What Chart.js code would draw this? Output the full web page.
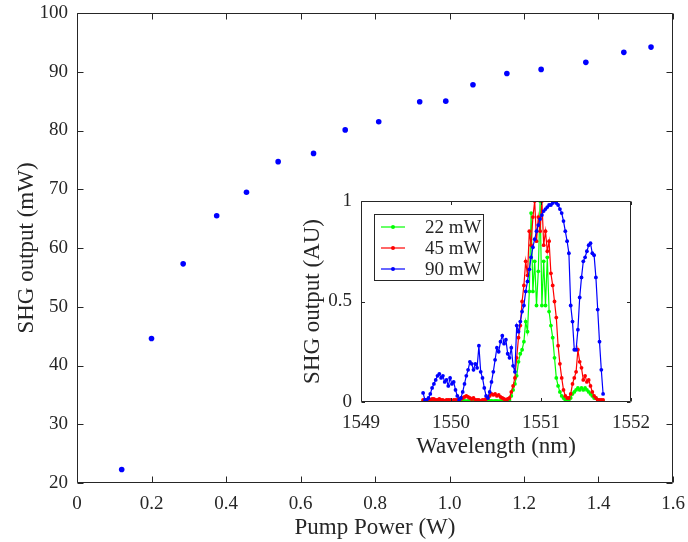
<!DOCTYPE html>
<html lang="en">
<head>
    <meta charset="UTF-8">
    <title>SHG output vs pump power</title>
    <script src="https://cdn.jsdelivr.net/npm/chart.js"></script>
    <style>
        body { margin: 0; background: #fff; }
        #wrap { position: relative; width: 688px; height: 542px; }
        #mainChart { position: absolute; left: 0; top: 0; }
        #insetChart { position: absolute; left: 280px; top: 180px; }
    </style>
</head>
<body>
<div id="wrap">
    <canvas id="mainChart" width="688" height="542"></canvas>
    <canvas id="insetChart" width="380" height="281"></canvas>
</div>
<script>
// main plot: SHG output vs pump power
const pumpPower = [0.12, 0.20, 0.285, 0.375, 0.455, 0.54, 0.635, 0.72, 0.81, 0.92, 0.99, 1.063, 1.154, 1.246, 1.366, 1.468, 1.541];
const shgOutput = [22.3, 44.6, 57.3, 65.5, 69.5, 74.7, 76.1, 80.1, 81.5, 84.9, 85.0, 87.8, 89.7, 90.4, 91.6, 93.3, 94.2];
const mainXTicks = [0, 0.2, 0.4, 0.6, 0.8, 1, 1.2, 1.4, 1.6];
const mainYTicks = [20, 30, 40, 50, 60, 70, 80, 90, 100];

// inset: spectra at three pump levels
const wavelength = [
    1549.69, 1549.71, 1549.73, 1549.75, 1549.77, 1549.79, 1549.81, 1549.83, 1549.85, 1549.87,
    1549.89, 1549.91, 1549.93, 1549.95, 1549.97, 1549.99, 1550.01, 1550.03, 1550.05, 1550.07,
    1550.09, 1550.11, 1550.13, 1550.15, 1550.17, 1550.19, 1550.21, 1550.23, 1550.25, 1550.27,
    1550.29, 1550.31, 1550.33, 1550.35, 1550.37, 1550.39, 1550.41, 1550.43, 1550.45, 1550.47,
    1550.49, 1550.51, 1550.53, 1550.55, 1550.57, 1550.59, 1550.61, 1550.63, 1550.65, 1550.67,
    1550.69, 1550.71, 1550.73, 1550.75, 1550.77, 1550.79, 1550.81, 1550.83, 1550.85, 1550.87,
    1550.89, 1550.91, 1550.93, 1550.95, 1550.97, 1550.99, 1551.01, 1551.03, 1551.05, 1551.07,
    1551.09, 1551.11, 1551.13, 1551.15, 1551.17, 1551.19, 1551.21, 1551.23, 1551.25, 1551.27,
    1551.29, 1551.31, 1551.33, 1551.35, 1551.37, 1551.39, 1551.41, 1551.43, 1551.45, 1551.47,
    1551.49, 1551.51, 1551.53, 1551.55, 1551.57, 1551.59, 1551.61, 1551.63, 1551.65, 1551.67,
    1551.69
];
const spec22 = [
    0.005, 0.003, 0.004, 0.006, 0.004, 0.005, 0.003, 0.005, 0.004, 0.006,
    0.004, 0.005, 0.003, 0.004, 0.005, 0.003, 0.004, 0.005, 0.003, 0.004,
    0.005, 0.004, 0.006, 0.005, 0.004, 0.006, 0.005, 0.004, 0.005, 0.003,
    0.004, 0.003, 0.004, 0.005, 0.003, 0.004, 0.005, 0.006, 0.005, 0.004,
    0.005, 0.006, 0.004, 0.005, 0.004, 0.003, 0.004, 0.005, 0.01, 0.03,
    0.06, 0.09, 0.13, 0.20, 0.24, 0.26, 0.30, 0.40, 0.35, 0.55,
    0.94, 0.55, 0.70, 0.48, 0.65, 1.00, 0.48, 0.70, 0.48, 0.72,
    0.45, 0.38, 0.32, 0.22, 0.12, 0.08, 0.05, 0.03, 0.02, 0.01,
    0.01, 0.01, 0.02, 0.04, 0.05, 0.06, 0.07, 0.06, 0.07, 0.06,
    0.07, 0.06, 0.05, 0.04, 0.03, 0.02, 0.02, 0.01, 0.005, 0.003,
    0.002
];
const spec45 = [
    0.01, 0.01, 0.005, 0.01, 0.01, 0.015, 0.015, 0.01, 0.01, 0.015,
    0.01, 0.01, 0.005, 0.01, 0.01, 0.01, 0.005, 0.01, 0.01, 0.01,
    0.015, 0.015, 0.02, 0.025, 0.03, 0.025, 0.02, 0.015, 0.02, 0.01,
    0.01, 0.01, 0.005, 0.01, 0.01, 0.015, 0.02, 0.03, 0.04, 0.035,
    0.04, 0.03, 0.035, 0.025, 0.02, 0.015, 0.01, 0.015, 0.02, 0.05,
    0.08, 0.12, 0.22, 0.32, 0.38, 0.50, 0.58, 0.70, 0.63, 0.85,
    0.78, 0.92, 1.00, 0.80, 0.92, 0.85, 1.00, 0.78, 0.85, 0.75,
    0.80, 0.64, 0.58, 0.50, 0.42, 0.28, 0.19, 0.12, 0.06, 0.03,
    0.02, 0.02, 0.04, 0.09, 0.12, 0.15, 0.26, 0.20, 0.17, 0.11,
    0.13, 0.10, 0.11, 0.08, 0.05, 0.03, 0.02, 0.01, 0.01, 0.01,
    0.01
];
const spec90 = [
    0.045, 0.01, 0.01, 0.02, 0.04, 0.07, 0.09, 0.11, 0.13, 0.14,
    0.12, 0.13, 0.10, 0.11, 0.08, 0.12, 0.09, 0.10, 0.06, 0.03,
    0.01, 0.02, 0.05, 0.09, 0.13, 0.16, 0.20, 0.19, 0.16, 0.19,
    0.17, 0.28, 0.15, 0.12, 0.07, 0.03, 0.02, 0.05, 0.10, 0.15,
    0.21, 0.27, 0.25, 0.30, 0.33, 0.29, 0.31, 0.24, 0.22, 0.27,
    0.18, 0.15, 0.38, 0.35, 0.40, 0.45, 0.48, 0.55, 0.60, 0.66,
    0.72, 0.77, 0.81, 0.85, 0.88, 0.91, 0.93, 0.95, 0.96, 0.97,
    0.98, 0.98, 0.99, 1.00, 0.99, 0.98, 0.96, 0.94, 0.90, 0.85,
    0.80, 0.74, 0.48, 0.40, 0.26, 0.26, 0.36, 0.52, 0.62, 0.70,
    0.72, 0.75, 0.78, 0.79, 0.74, 0.73, 0.62, 0.46, 0.30, 0.16,
    0.04
];
const insetXTicks = [1549, 1550, 1551, 1552];
const insetYTicks = [0, 0.5, 1];
const seriesNames = ['22 mW', '45 mW', '90 mW'];
const seriesColors = ['#00ff00', '#ff0000', '#0000ff'];

Chart.defaults.font.family = "'Liberation Serif', 'Times New Roman', serif";
Chart.defaults.color = '#262626';

const axisColor = '#262626';

// MATLAB style box with inward ticks on all four sides
const boxFrame = {
    id: 'boxFrame',
    afterDraw(chart, args, opts) {
        const ctx = chart.ctx;
        const a = chart.chartArea;
        const x = chart.scales.x, y = chart.scales.y;
        const len = opts.len || 5;
        const l = Math.round(a.left) + 0.5, r = Math.round(a.right) - 0.5;
        const t = Math.round(a.top) + 0.5, b = Math.round(a.bottom) - 0.5;
        ctx.save();
        ctx.strokeStyle = axisColor;
        ctx.lineWidth = 1;
        ctx.beginPath();
        ctx.rect(l, t, r - l, b - t);
        x.ticks.forEach(tk => {
            const px = Math.round(x.getPixelForValue(tk.value)) + 0.5;
            ctx.moveTo(px, b); ctx.lineTo(px, b - len);
            ctx.moveTo(px, t); ctx.lineTo(px, t + len);
        });
        y.ticks.forEach(tk => {
            const py = Math.round(y.getPixelForValue(tk.value)) + 0.5;
            ctx.moveTo(l, py); ctx.lineTo(l + len, py);
            ctx.moveTo(r, py); ctx.lineTo(r - len, py);
        });
        ctx.stroke();
        ctx.restore();
    }
};

// boxed legend in the top left of the inset
const insetLegend = {
    id: 'insetLegend',
    afterDraw(chart) {
        const ctx = chart.ctx;
        const a = chart.chartArea;
        const bx = a.left + 13, by = a.top + 13, bw = 109, bh = 66;
        ctx.save();
        ctx.fillStyle = '#fff';
        ctx.fillRect(bx, by, bw, bh);
        ctx.strokeStyle = axisColor;
        ctx.lineWidth = 1;
        ctx.strokeRect(Math.round(bx) + 0.5, Math.round(by) + 0.5, bw, bh);
        ctx.font = "19px 'Liberation Serif'";
        ctx.textBaseline = 'middle';
        chart.data.datasets.forEach((ds, i) => {
            const cy = by + 13 + i * 21;
            ctx.strokeStyle = ds.borderColor;
            ctx.lineWidth = 1.2;
            ctx.beginPath();
            ctx.moveTo(bx + 7, cy); ctx.lineTo(bx + 31, cy);
            ctx.stroke();
            ctx.fillStyle = ds.borderColor;
            ctx.beginPath();
            ctx.arc(bx + 19, cy, 2, 0, Math.PI * 2);
            ctx.fill();
            ctx.fillStyle = '#262626';
            ctx.fillText(ds.label, bx + 51, cy + 1);
        });
        ctx.restore();
    }
};

function fixedTicks(list) {
    return function (axis) {
        axis.ticks = list.map(v => ({ value: v }));
    };
}

// fixed axis box, and no extra room for overhanging tick labels
function fixSize(size) {
    return function (axis) {
        if (axis.isHorizontal()) axis.height = size; else axis.width = size;
        axis.paddingLeft = 0; axis.paddingRight = 0;
        axis.paddingTop = 0; axis.paddingBottom = 0;
    };
}

new Chart(document.getElementById('mainChart'), {
    type: 'scatter',
    data: {
        datasets: [{
            label: 'SHG output',
            data: pumpPower.map((p, i) => ({ x: p, y: shgOutput[i] })),
            backgroundColor: '#0000ff',
            borderColor: '#0000ff',
            pointRadius: 2.8,
            pointBorderWidth: 0
        }]
    },
    options: {
        responsive: false,
        animation: false,
        layout: { padding: { left: 0, top: 13, right: 15, bottom: 0 } },
        plugins: {
            legend: { display: false },
            tooltip: { enabled: false },
            boxFrame: { len: 6 }
        },
        scales: {
            x: {
                type: 'linear',
                min: 0,
                max: 1.6,
                afterBuildTicks: fixedTicks(mainXTicks),
                afterFit: fixSize(59),
                grid: { display: false, drawTicks: false },
                border: { display: false },
                ticks: { font: { size: 19 }, padding: 10, maxRotation: 0 },
                title: { display: true, text: 'Pump Power (W)', font: { size: 23 }, padding: { top: 0, bottom: 0 } }
            },
            y: {
                min: 20,
                max: 100,
                afterBuildTicks: fixedTicks(mainYTicks),
                afterFit: fixSize(77),
                grid: { display: false, drawTicks: false },
                border: { display: false },
                ticks: { font: { size: 19 }, padding: 9 },
                title: { display: true, text: 'SHG output (mW)', font: { size: 23 }, padding: { top: 13, bottom: 0 } }
            }
        }
    },
    plugins: [boxFrame]
});

const spectra = [spec22, spec45, spec90];

new Chart(document.getElementById('insetChart'), {
    type: 'scatter',
    data: {
        datasets: spectra.map((s, k) => ({
            label: seriesNames[k],
            data: wavelength.map((w, i) => ({ x: w, y: s[i] })),
            showLine: true,
            borderColor: seriesColors[k],
            backgroundColor: seriesColors[k],
            borderWidth: 1.2,
            pointRadius: 1.9,
            pointBorderWidth: 0,
            order: 3 - k
        }))
    },
    options: {
        responsive: false,
        animation: false,
        layout: { padding: { left: 0, top: 21, right: 29, bottom: 0 } },
        plugins: {
            legend: { display: false },
            tooltip: { enabled: false },
            boxFrame: { len: 3.5 }
        },
        scales: {
            x: {
                type: 'linear',
                min: 1549,
                max: 1552,
                afterBuildTicks: fixedTicks(insetXTicks),
                afterFit: fixSize(59),
                grid: { display: false, drawTicks: false },
                border: { display: false },
                ticks: { font: { size: 19 }, padding: 10, maxRotation: 0, callback: v => String(v) },
                title: { display: true, text: 'Wavelength (nm)', font: { size: 23 }, padding: { top: 0, bottom: 0 } }
            },
            y: {
                min: 0,
                max: 1,
                afterBuildTicks: fixedTicks(insetYTicks),
                afterFit: fixSize(81),
                grid: { display: false, drawTicks: false },
                border: { display: false },
                ticks: { font: { size: 19 }, padding: 9, callback: v => String(v) },
                title: { display: true, text: 'SHG output (AU)', font: { size: 23 }, padding: { top: 19, bottom: 0 } }
            }
        }
    },
    plugins: [boxFrame, insetLegend]
});
</script>
</body>
</html>
